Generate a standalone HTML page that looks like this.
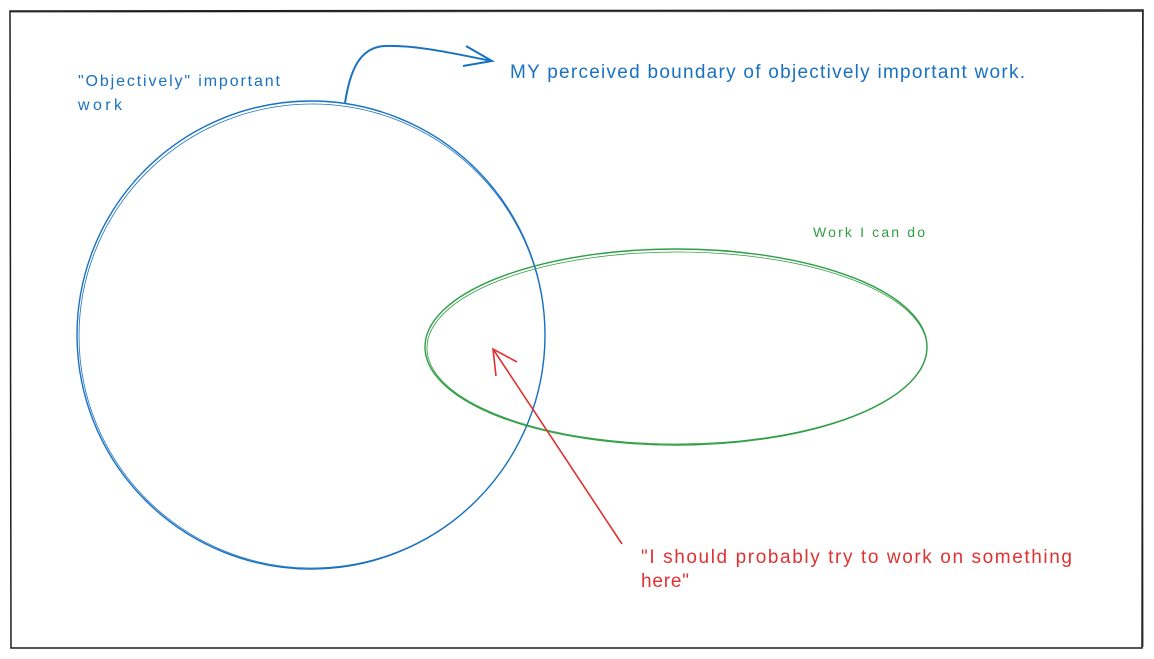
<!DOCTYPE html>
<html><head><meta charset="utf-8"><style>
html,body{margin:0;padding:0;background:#fff;width:1154px;height:659px;overflow:hidden}
svg text{font-family:"Liberation Sans",sans-serif}
</style></head><body>
<svg width="1154" height="659" viewBox="0 0 1154 659" xmlns="http://www.w3.org/2000/svg">
<rect x="0" y="0" width="1154" height="659" fill="#fff"/>
<path d="M10 11 L1143 10 L1142 648 L11 648 Z" fill="none" stroke="#1e1e1e" stroke-width="1.5"/>
<path d="M10.5 12 L1142 11.5 M1142.5 11 L1143 647" fill="none" stroke="#1e1e1e" stroke-width="0.8"/>
<ellipse cx="311" cy="335" rx="234" ry="234" fill="none" stroke="#1971c2" stroke-width="1.4"/>
<ellipse cx="312" cy="336" rx="233" ry="232" fill="none" stroke="#1971c2" stroke-width="0.8"/>
<ellipse cx="676" cy="347" rx="251" ry="98" fill="none" stroke="#2f9e44" stroke-width="1.4"/>
<ellipse cx="677" cy="348" rx="250" ry="96" fill="none" stroke="#2f9e44" stroke-width="0.8"/>
<path d="M345 103 C350 70 360 47 385 46 C420 45 460 55 492 61" fill="none" stroke="#1971c2" stroke-width="2"/>
<path d="M466 46 L492 61 L463 66" fill="none" stroke="#1971c2" stroke-width="2"/>
<path d="M622 544 L493 349" fill="none" stroke="#e03131" stroke-width="1.6"/>
<path d="M496 376 L493 349 L517 362" fill="none" stroke="#e03131" stroke-width="1.6"/>
<text x="78" y="86" fill="#1971c2" font-size="16" textLength="202" lengthAdjust="spacing">"Objectively" important</text>
<text x="78" y="110" fill="#1971c2" font-size="16" textLength="44" lengthAdjust="spacing">work</text>
<text x="510" y="78" fill="#1971c2" font-size="19" textLength="515" lengthAdjust="spacing">MY perceived boundary of objectively important work.</text>
<text x="813" y="237" fill="#2f9e44" font-size="14" textLength="112" lengthAdjust="spacing">Work I can do</text>
<text x="641" y="563" fill="#e03131" font-size="19" textLength="431" lengthAdjust="spacing">"I should probably try to work on something</text>
<text x="641" y="587" fill="#e03131" font-size="19" textLength="48" lengthAdjust="spacing">here"</text>
</svg>
</body></html>
